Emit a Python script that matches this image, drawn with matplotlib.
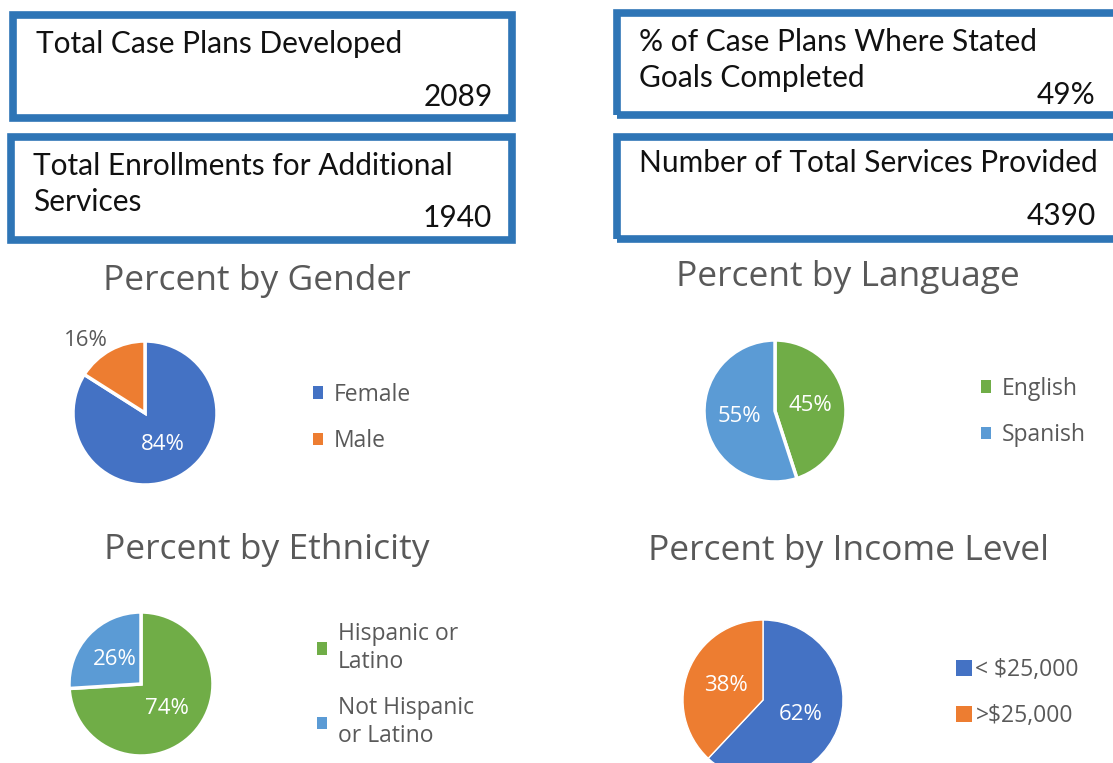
import numpy as np
import matplotlib
matplotlib.use('Agg')
import matplotlib.pyplot as plt
from matplotlib.patches import Rectangle, Patch

# ── Data ────────────────────────────────────────────────────────────────
kpi_labels = [["Total Case Plans Developed"],
              ["Total Enrollments for Additional", "Services"],
              ["% of Case Plans Where Stated", "Goals Completed"],
              ["Number of Total Services Provided"]]
kpi_values = ["2089", "1940", "49%", "4390"]

gender_labels = ["Female", "Male"]
gender_values = [84, 16]
language_labels = ["English", "Spanish"]
language_values = [45, 55]
ethnicity_labels = ["Hispanic or\nLatino", "Not Hispanic\nor Latino"]
ethnicity_values = [74, 26]
income_labels = ["< $25,000", ">$25,000"]
income_values = [62, 38]

BLUE, ORANGE, GREEN, LBLUE = "#4472C4", "#ED7D31", "#70AD47", "#5B9BD5"
BORDER = "#2E75B6"
GRAY = "#595959"

W, H = 1113, 763
fig = plt.figure(figsize=(W / 100, H / 100), dpi=100)
fig.patch.set_facecolor("white")


def fx(x):
    return x / W


def fy(y):
    return 1 - y / H


# ── KPI boxes ───────────────────────────────────────────────────────────
# (left, top, right, bottom) of border centre line, text x, first line y, value right x, value y
boxes = [
    (13, 15, 512, 118, 36, 44, 493, 97),
    (11, 137, 512, 240, 33, 166, 492, 218),
    (617, 13, 1125, 115, 639, 42, 1095, 95),
    (617, 137, 1125, 239, 639, 163, 1096, 216),
]
for (l, t, r, b, tx, ty, vx, vy), lines, val in zip(boxes, kpi_labels, kpi_values):
    fig.patches.append(Rectangle((fx(l), fy(b)), fx(r) - fx(l), fy(t) - fy(b),
                                 transform=fig.transFigure, fill=False,
                                 edgecolor=BORDER, linewidth=5.5))
    for k, line in enumerate(lines):
        fig.text(fx(tx), fy(ty + 36 * k), line, ha="left", va="center", fontsize=21.5,
                 family="Lato", color="#111111")
    fig.text(fx(vx), fy(vy), val, ha="right", va="center", fontsize=21.5,
             family="Lato", color="#111111")

# ── Pies ────────────────────────────────────────────────────────────────
pies = [
    ("Percent by Gender", (257, 281), gender_values, gender_labels, [BLUE, ORANGE],
     (145, 413, 72), (313, 418), 2.5),
    ("Percent by Language", (848, 277), language_values, language_labels, [GREEN, LBLUE],
     (775, 411, 71), (981, 412), 2.5),
    ("Percent by Ethnicity", (267, 550), ethnicity_values, ethnicity_labels, [GREEN, LBLUE],
     (141, 684, 72), (317, 685), 2.5),
    ("Percent by Income Level", (849, 551), income_values, income_labels, [BLUE, ORANGE],
     (763, 700, 80), (956, 693), 1.0),
]

for i, (title, (tx, ty), vals, labs, cols, (cx, cy, rad), (lx, ly), ew) in enumerate(pies):
    fig.text(fx(tx), fy(ty), title, ha="center", va="center", fontsize=25.5,
             family="Open Sans", color=GRAY)
    ax = fig.add_axes([fx(cx - rad), fy(cy + rad), 2 * rad / W, 2 * rad / H])
    wedges, _, autotexts = ax.pie(vals, colors=cols, startangle=90, counterclock=False,
                                  autopct="%1.0f%%", pctdistance=0.5,
                                  textprops=dict(color="white", fontsize=16,
                                                 family="Open Sans"),
                                  wedgeprops=dict(edgecolor="white", linewidth=ew))
    ax.set_xlim(-1, 1)
    ax.set_ylim(-1, 1)
    if i == 0:
        # small slice label sits outside the pie
        w = wedges[1]
        ang = np.deg2rad((w.theta1 + w.theta2) / 2)
        autotexts[1].set_position((1.3 * np.cos(ang) - 0.2, 1.15 * np.sin(ang)))
        autotexts[1].set_color(GRAY)
    handles = [Patch(facecolor=c, edgecolor="none") for c in cols]
    hl = 0.7 if i == 3 else 0.45
    fig.legend(handles, labs, loc="center left", bbox_to_anchor=(fx(lx), fy(ly)),
               frameon=False, labelcolor=GRAY,
               prop=dict(family="Open Sans", size=16.5),
               handlelength=hl, handleheight=hl, handletextpad=0.45 if i < 3 else 0.15,
               labelspacing=1.0, borderaxespad=0, borderpad=0)

fig.savefig("out.png", dpi=100, facecolor="white")
